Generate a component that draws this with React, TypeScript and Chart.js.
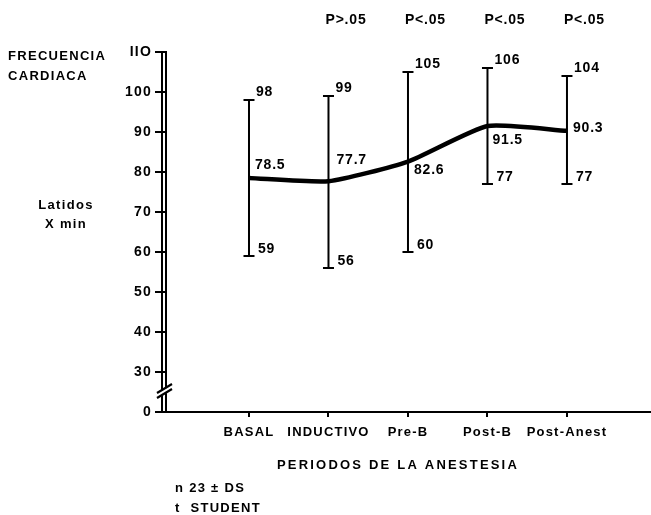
import React, { useEffect, useRef } from "react";
import { Chart, registerables } from "chart.js";

Chart.register(...registerables);

const categories = ["BASAL", "INDUCTIVO", "Pre-B", "Post-B", "Post-Anest"];
const means = [78.5, 77.7, 82.6, 91.5, 90.3];
const maxValues = [98, 99, 105, 106, 104];
const minValues = [59, 56, 60, 77, 77];
const pLabels = ["", "P>.05", "P<.05", "P<.05", "P<.05"];
const yTicks = [20, 30, 40, 50, 60, 70, 80, 90, 100, 110];
const meanLabelOffsets = [
  [6, -13],
  [8, -21],
  [6, 9],
  [5, 14],
  [6, -3],
];

const FONT = "'Liberation Sans', Arial, sans-serif";

const overlayPlugin = {
  id: "overlay",
  beforeDraw(chart: any) {
    chart.ctx.letterSpacing = "1.2px";
  },
  afterDraw(chart: any) {
    const ctx = chart.ctx;
    const xs = chart.scales.x;
    const ys = chart.scales.y;
    const area = chart.chartArea;
    ctx.save();
    ctx.strokeStyle = "#000";
    ctx.fillStyle = "#000";

    // second y-axis line (double line look)
    ctx.lineWidth = 2;
    ctx.beginPath();
    ctx.moveTo(area.left - 4, area.top);
    ctx.lineTo(area.left - 4, area.bottom);
    ctx.stroke();

    // axis break
    const yb = ys.getPixelForValue(26);
    ctx.fillStyle = "#fff";
    ctx.beginPath();
    ctx.moveTo(area.left - 8, yb + 5);
    ctx.lineTo(area.left + 6, yb - 3);
    ctx.lineTo(area.left + 6, yb + 2);
    ctx.lineTo(area.left - 8, yb + 10);
    ctx.closePath();
    ctx.fill();
    ctx.fillStyle = "#000";
    ctx.lineWidth = 2.2;
    ctx.beginPath();
    ctx.moveTo(area.left - 9, yb + 5);
    ctx.lineTo(area.left + 6, yb - 4);
    ctx.moveTo(area.left - 9, yb + 10);
    ctx.lineTo(area.left + 6, yb + 1);
    ctx.stroke();

    // error bars
    ctx.lineWidth = 2;
    categories.forEach((_, i) => {
      const x = xs.getPixelForValue(i);
      const yTop = ys.getPixelForValue(maxValues[i]);
      const yBot = ys.getPixelForValue(minValues[i]);
      ctx.beginPath();
      ctx.moveTo(x, yTop);
      ctx.lineTo(x, yBot);
      ctx.moveTo(x - 5.5, yTop);
      ctx.lineTo(x + 5.5, yTop);
      ctx.moveTo(x - 5.5, yBot);
      ctx.lineTo(x + 5.5, yBot);
      ctx.stroke();
    });

    // value labels
    ctx.font = `bold 14px ${FONT}`;
    ctx.letterSpacing = "0.8px";
    ctx.textAlign = "left";
    ctx.textBaseline = "middle";
    categories.forEach((_, i) => {
      const x = xs.getPixelForValue(i);
      ctx.fillText(String(maxValues[i]), x + 7, ys.getPixelForValue(maxValues[i]) - 8);
      ctx.fillText(String(minValues[i]), x + 9, ys.getPixelForValue(minValues[i]) - 7);
      const [dx, dy] = meanLabelOffsets[i];
      ctx.fillText(means[i].toFixed(1), x + dx, ys.getPixelForValue(means[i]) + dy);
      if (pLabels[i]) ctx.fillText(pLabels[i], x - 3, 20);
    });

    // titles
    ctx.font = `bold 13px ${FONT}`;
    ctx.letterSpacing = "1.3px";
    ctx.fillText("FRECUENCIA", 8, 56);
    ctx.fillText("CARDIACA", 8, 76);
    ctx.textAlign = "center";
    ctx.fillText("Latidos", 66, 205);
    ctx.fillText("X min", 66, 224);
    ctx.letterSpacing = "2.2px";
    ctx.fillText("PERIODOS DE LA ANESTESIA", 398, 465);
    ctx.letterSpacing = "1.3px";
    ctx.textAlign = "left";
    ctx.fillText("n 23 \u00b1 DS", 175, 488);
    ctx.fillText("t  STUDENT", 175, 508);
    ctx.restore();
  },
};

export default function App() {
  const ref = useRef<HTMLCanvasElement>(null);
  useEffect(() => {
    document.body.style.margin = "0";
    const chart = new Chart(ref.current!, {
      type: "line",
      data: {
        datasets: [
          {
            data: categories.map((_, i) => ({ x: i, y: means[i] })),
            borderColor: "#000",
            borderWidth: 4.5,
            pointRadius: 0,
            tension: 0.18,
            fill: false,
          },
        ],
      },
      options: {
        animation: false,
        responsive: false,
        devicePixelRatio: 1,
        layout: { padding: { top: 52, left: 0, right: 0, bottom: 0 } },
        plugins: { legend: { display: false }, tooltip: { enabled: false } },
        scales: {
          x: {
            type: "linear",
            min: -1.044,
            max: 5.057,
            afterBuildTicks: (scale: any) => {
              scale.ticks = categories.map((_, i) => ({ value: i }));
            },
            afterFit: (scale: any) => {
              scale.height = 103;
            },
            ticks: {
              autoSkip: false,
              maxRotation: 0,
              padding: 8,
              color: "#000",
              font: { family: FONT, weight: "bold", size: 13 },
              callback: (v: any) => categories[v] ?? "",
            },
            grid: { drawOnChartArea: false, tickLength: 5, color: "#000", lineWidth: 2 },
            border: { color: "#000", width: 2 },
          },
          y: {
            min: 20,
            max: 110,
            afterBuildTicks: (scale: any) => {
              scale.ticks = yTicks.map((v) => ({ value: v }));
            },
            afterFit: (scale: any) => {
              scale.width = 166;
            },
            ticks: {
              padding: 3,
              color: "#000",
              font: { family: FONT, weight: "bold", size: 14 },
              callback: (v: any) => (v === 20 ? "0" : v === 110 ? "IIO" : String(v)),
            },
            grid: { drawOnChartArea: false, tickLength: 11, color: "#000", lineWidth: 2 },
            border: { color: "#000", width: 2 },
          },
        },
      },
      plugins: [overlayPlugin],
    });
    return () => chart.destroy();
  }, []);
  return (
    <div style={{ width: 651, height: 515, background: "#fff" }}>
      <canvas ref={ref} width={651} height={515} />
    </div>
  );
}
